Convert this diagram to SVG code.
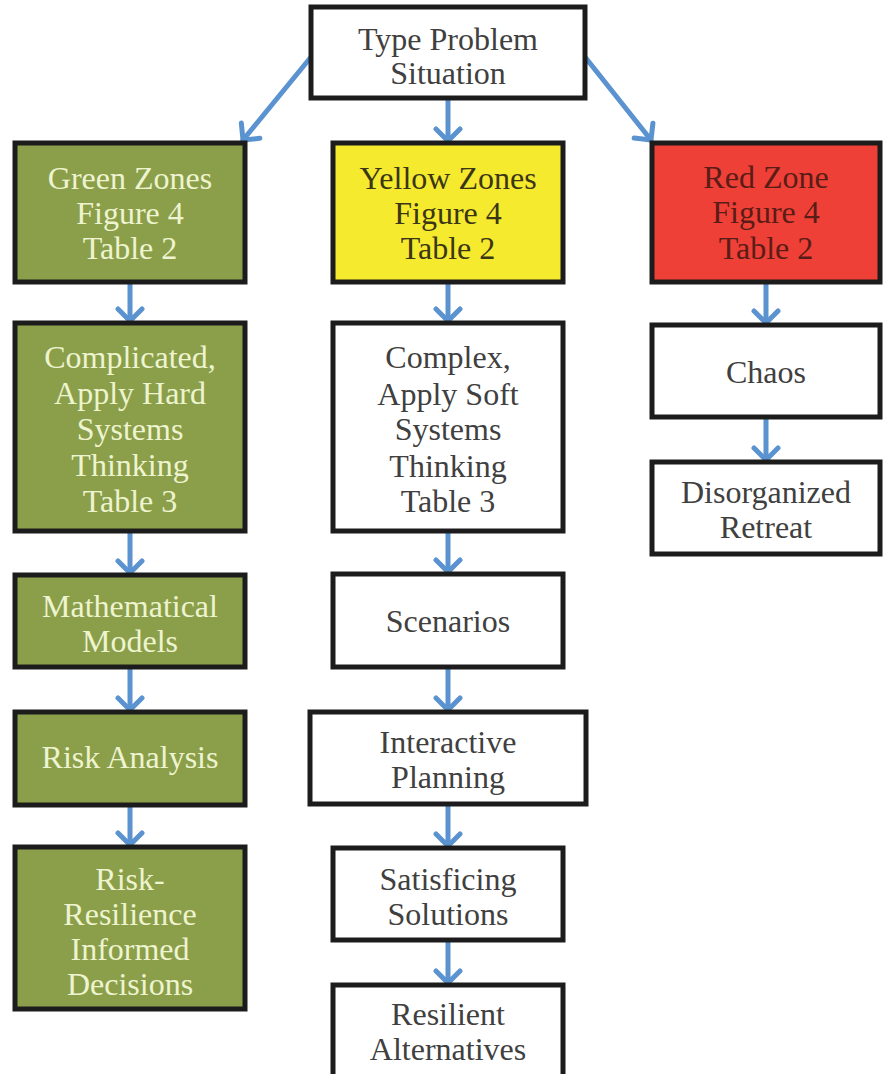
<svg xmlns="http://www.w3.org/2000/svg" width="885" height="1074" viewBox="0 0 885 1074">
<style>
.box{stroke:#1c1c1c;stroke-width:5}
.w{fill:#ffffff}
.g{fill:#8b9f4b}
.y{fill:#f6ea2f}
.r{fill:#ee4036}
text{font-family:"Liberation Serif","Times New Roman",serif;font-size:32px;text-anchor:middle}
.tw{fill:#404040}
.tg{fill:#eef4cf}
.ty{fill:#3b3616}
.tr{fill:#5a1c16}
.c{stroke:#5b93d0;stroke-width:5;fill:none;stroke-linecap:round}
</style>
<defs>
<marker id="ah" markerUnits="userSpaceOnUse" markerWidth="30" markerHeight="30" refX="0" refY="0" viewBox="-16 -15 20 30" orient="auto">
<path d="M-12,-12 L0,0 L-12,12" fill="none" stroke="#5b93d0" stroke-width="5" stroke-linecap="round" stroke-linejoin="round"/>
</marker>
</defs>
<rect width="885" height="1074" fill="#ffffff"/>
<g id="connectors">
<line class="c" x1="311" y1="57" x2="243" y2="140" marker-end="url(#ah)"/>
<line class="c" x1="448" y1="100" x2="448" y2="141" marker-end="url(#ah)"/>
<line class="c" x1="585" y1="57" x2="651" y2="140" marker-end="url(#ah)"/>
<line class="c" x1="130" y1="284" x2="130" y2="321" marker-end="url(#ah)"/>
<line class="c" x1="130" y1="533" x2="130" y2="573" marker-end="url(#ah)"/>
<line class="c" x1="130" y1="669" x2="130" y2="710" marker-end="url(#ah)"/>
<line class="c" x1="130" y1="807" x2="130" y2="845" marker-end="url(#ah)"/>
<line class="c" x1="448" y1="284" x2="448" y2="321" marker-end="url(#ah)"/>
<line class="c" x1="448" y1="533" x2="448" y2="572" marker-end="url(#ah)"/>
<line class="c" x1="448" y1="669" x2="448" y2="710" marker-end="url(#ah)"/>
<line class="c" x1="448" y1="806" x2="448" y2="846" marker-end="url(#ah)"/>
<line class="c" x1="448" y1="942" x2="448" y2="983" marker-end="url(#ah)"/>
<line class="c" x1="766" y1="284" x2="766" y2="323" marker-end="url(#ah)"/>
<line class="c" x1="766" y1="419" x2="766" y2="460" marker-end="url(#ah)"/>
</g>
<g id="n-type"><rect class="box w" x="311" y="7" width="274" height="91"/><text class="tw" x="448" y="50">Type Problem</text><text class="tw" x="448" y="84">Situation</text></g>
<g id="n-green"><rect class="box g" x="15" y="143" width="230" height="139"/><text class="tg" x="130" y="189">Green Zones</text><text class="tg" x="130" y="224">Figure 4</text><text class="tg" x="130" y="259">Table 2</text></g>
<g id="n-yellow"><rect class="box y" x="333" y="143" width="230" height="139"/><text class="ty" x="448" y="189">Yellow Zones</text><text class="ty" x="448" y="224">Figure 4</text><text class="ty" x="448" y="259">Table 2</text></g>
<g id="n-red"><rect class="box r" x="652" y="143" width="228" height="139"/><text class="tr" x="766" y="188">Red Zone</text><text class="tr" x="766" y="223">Figure 4</text><text class="tr" x="766" y="259">Table 2</text></g>
<g id="n-complicated"><rect class="box g" x="15" y="323" width="230" height="208"/><text class="tg" x="130" y="368">Complicated,</text><text class="tg" x="130" y="404">Apply Hard</text><text class="tg" x="130" y="440">Systems</text><text class="tg" x="130" y="476">Thinking</text><text class="tg" x="130" y="512">Table 3</text></g>
<g id="n-math"><rect class="box g" x="15" y="575" width="230" height="92"/><text class="tg" x="130" y="617">Mathematical</text><text class="tg" x="130" y="652">Models</text></g>
<g id="n-risk"><rect class="box g" x="15" y="712" width="230" height="93"/><text class="tg" x="130" y="768">Risk Analysis</text></g>
<g id="n-rri"><rect class="box g" x="15" y="847" width="230" height="162"/><text class="tg" x="130" y="890">Risk-</text><text class="tg" x="130" y="925">Resilience</text><text class="tg" x="130" y="960">Informed</text><text class="tg" x="130" y="995">Decisions</text></g>
<g id="n-complex"><rect class="box w" x="333" y="323" width="230" height="208"/><text class="tw" x="448" y="368">Complex,</text><text class="tw" x="448" y="405">Apply Soft</text><text class="tw" x="448" y="440">Systems</text><text class="tw" x="448" y="477">Thinking</text><text class="tw" x="448" y="512">Table 3</text></g>
<g id="n-scenarios"><rect class="box w" x="333" y="574" width="230" height="93"/><text class="tw" x="448" y="632">Scenarios</text></g>
<g id="n-interactive"><rect class="box w" x="310" y="712" width="276" height="92"/><text class="tw" x="448" y="753">Interactive</text><text class="tw" x="448" y="788">Planning</text></g>
<g id="n-satisficing"><rect class="box w" x="333" y="848" width="230" height="92"/><text class="tw" x="448" y="890">Satisficing</text><text class="tw" x="448" y="925">Solutions</text></g>
<g id="n-resilient"><rect class="box w" x="333" y="985" width="230" height="96"/><text class="tw" x="448" y="1025">Resilient</text><text class="tw" x="448" y="1060">Alternatives</text></g>
<g id="n-chaos"><rect class="box w" x="652" y="325" width="228" height="92"/><text class="tw" x="766" y="383">Chaos</text></g>
<g id="n-disorganized"><rect class="box w" x="652" y="462" width="228" height="92"/><text class="tw" x="766" y="503">Disorganized</text><text class="tw" x="766" y="538">Retreat</text></g>
</svg>
